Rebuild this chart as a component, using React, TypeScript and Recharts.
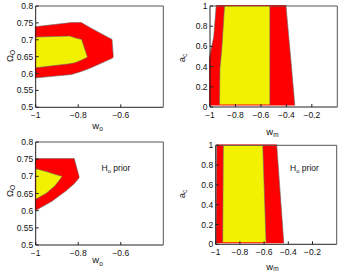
import React from 'react';
import { ComposedChart, Area, XAxis, YAxis } from 'recharts';

const W = 340;
const H = 273;
const RED = '#ff0000';
const YELLOW = '#f2f200';
const EDGE = '#6a6a6a';
const FONT = '"Liberation Sans", Arial, Helvetica, sans-serif';

// ---------- tick labels ----------
const omegaTicks = [0.5, 0.55, 0.6, 0.65, 0.7, 0.75, 0.8];
const woTicks = [-1, -0.8, -0.6];
const acTicks = [0, 0.2, 0.4, 0.6, 0.8, 1];
const wmTicks = [-1, -0.8, -0.6, -0.4, -0.2];

// ---------- panel 1: Omega_O vs w_o ----------
const p1RedW = [-1, -0.83, -0.784, -0.745, -0.713, -0.642, -0.636];
const p1RedLo = [0.588, 0.598, 0.607, 0.616, 0.625, 0.645, 0.648];
const p1RedHi = [0.737, 0.749, 0.749, 0.735, 0.724, 0.7, 0.65];
const p1YelW = [-1, -0.84, -0.815, -0.784, -0.757];
const p1YelLo = [0.617, 0.629, 0.632, 0.64, 0.648];
const p1YelHi = [0.708, 0.711, 0.706, 0.701, 0.649];

// ---------- panel 2: a_c vs w_m ----------
const p2RedA = [0.025, 0.47, 0.69, 1];
const p2RedL = [-1, -1, -0.964, -0.944];
const p2RedR = [-0.336, -0.367, -0.383, -0.405];
const p2YelA = [0.025, 0.38, 0.56, 1];
const p2YelL = [-0.925, -0.922, -0.908, -0.886];
const p2YelR = [-0.53, -0.53, -0.53, -0.53];

// ---------- panel 3: Omega_O vs w_o, H_o prior ----------
const p3RedW = [-1, -0.92, -0.856, -0.817, -0.794];
const p3RedLo = [0.6, 0.628, 0.657, 0.678, 0.695];
const p3RedHi = [0.75, 0.75, 0.75, 0.75, 0.698];
const p3YelW = [-1, -0.95, -0.91, -0.877];
const p3YelLo = [0.633, 0.651, 0.672, 0.698];
const p3YelHi = [0.722, 0.714, 0.706, 0.7];

// ---------- panel 4: a_c vs w_m, H_o prior ----------
const p4RedA = [0.02, 1];
const p4RedL = [-0.99, -0.984];
const p4RedR = [-0.438, -0.496];
const p4YelA = [0.02, 1];
const p4YelL = [-0.942, -0.937];
const p4YelR = [-0.584, -0.611];

const hRows = (xs: number[], lo: number[], hi: number[]) =>
  xs.map((x, i) => ({ x, r: [lo[i], hi[i]] }));
const vRows = (ys: number[], l: number[], r: number[]) =>
  ys.map((y, i) => ({ y, r: [l[i], r[i]] }));

const fmt = (v: number) => String(v).replace('-', '\u2212');

type Rect = { left: number; top: number; right: number; bottom: number };

type LayerProps = {
  data: any[];
  fill: string;
  vertical: boolean;
  rect: Rect;
  xDomain: [number, number];
  yDomain: [number, number];
  xTicks: number[];
  yTicks: number[];
  axes: boolean;
};

const AX = 1; // axis box thickness reserved by each axis

function Layer({ data, fill, vertical, rect, xDomain, yDomain, xTicks, yTicks, axes }: LayerProps) {
  const margin = {
    left: rect.left - AX,
    top: rect.top - AX,
    right: W - rect.right - AX,
    bottom: H - rect.bottom - AX,
  };
  const tickStyle = { fontSize: 8.5, fill: '#111', fontFamily: FONT };
  return (
    <div style={{ position: 'absolute', left: 0, top: 0, width: W, height: H }}>
      <ComposedChart width={W} height={H} data={data} margin={margin} layout={vertical ? 'vertical' : 'horizontal'}>
        <XAxis
          xAxisId="b"
          type="number"
          dataKey={vertical ? undefined : 'x'}
          domain={xDomain}
          ticks={xTicks}
          allowDataOverflow
          height={AX}
          hide={!axes}
          tickFormatter={fmt}
          tick={tickStyle}
          tickSize={-3}
          tickMargin={7.5}
          stroke="#222"
          axisLine={{ stroke: '#222' }}
          tickLine={{ stroke: '#222' }}
        />
        <XAxis
          xAxisId="t"
          orientation="top"
          type="number"
          domain={xDomain}
          ticks={xTicks}
          allowDataOverflow
          height={AX}
          hide={!axes}
          tick={false}
          tickSize={-3}
          axisLine={{ stroke: '#555' }}
          tickLine={{ stroke: '#555' }}
        />
        <YAxis
          yAxisId="l"
          type="number"
          dataKey={vertical ? 'y' : undefined}
          domain={yDomain}
          ticks={yTicks}
          reversed={vertical}
          allowDataOverflow
          width={AX}
          hide={!axes}
          tickFormatter={fmt}
          tick={tickStyle}
          tickSize={-3}
          tickMargin={5.5}
          axisLine={{ stroke: '#222' }}
          tickLine={{ stroke: '#222' }}
        />
        <YAxis
          yAxisId="r"
          orientation="right"
          type="number"
          domain={yDomain}
          ticks={yTicks}
          reversed={vertical}
          allowDataOverflow
          width={AX}
          hide={!axes}
          tick={false}
          tickSize={-3}
          axisLine={{ stroke: '#555' }}
          tickLine={{ stroke: '#555' }}
        />
        {data.length > 0 && (
          <Area
            xAxisId="b"
            yAxisId="l"
            dataKey="r"
            type="linear"
            fill={fill}
            fillOpacity={1}
            stroke={EDGE}
            strokeWidth={0.6}
            isAnimationActive={false}
            dot={false}
            activeDot={false}
          />
        )}
      </ComposedChart>
    </div>
  );
}

type PanelDef = {
  vertical: boolean;
  rect: Rect;
  xDomain: [number, number];
  yDomain: [number, number];
  xTicks: number[];
  yTicks: number[];
  red: any[];
  yellow: any[];
};

const panels: PanelDef[] = [
  {
    vertical: false,
    rect: { left: 35.7, top: 6, right: 163.3, bottom: 107.3 },
    xDomain: [-1, -0.4],
    yDomain: [0.5, 0.8],
    xTicks: woTicks,
    yTicks: omegaTicks,
    red: hRows(p1RedW, p1RedLo, p1RedHi),
    yellow: hRows(p1YelW, p1YelLo, p1YelHi),
  },
  {
    vertical: true,
    rect: { left: 210, top: 6, right: 337.3, bottom: 107 },
    xDomain: [-1, 0],
    yDomain: [0, 1],
    xTicks: wmTicks,
    yTicks: acTicks,
    red: vRows(p2RedA, p2RedL, p2RedR),
    yellow: vRows(p2YelA, p2YelL, p2YelR),
  },
  {
    vertical: false,
    rect: { left: 35.7, top: 142, right: 163.3, bottom: 245 },
    xDomain: [-1, -0.4],
    yDomain: [0.5, 0.8],
    xTicks: woTicks,
    yTicks: omegaTicks,
    red: hRows(p3RedW, p3RedLo, p3RedHi),
    yellow: hRows(p3YelW, p3YelLo, p3YelHi),
  },
  {
    vertical: true,
    rect: { left: 215.7, top: 145.3, right: 336.7, bottom: 244.3 },
    xDomain: [-1, 0],
    yDomain: [0, 1],
    xTicks: wmTicks,
    yTicks: acTicks,
    red: vRows(p4RedA, p4RedL, p4RedR),
    yellow: vRows(p4YelA, p4YelL, p4YelR),
  },
];

function Titles() {
  const base = { fontFamily: FONT, fill: '#111' } as const;
  const yTitle = (x: number, y: number, main: string, sub: string) => (
    <text x={x} y={y} transform={`rotate(-90, ${x}, ${y})`} textAnchor="middle" fontSize={9.5} {...base}>
      {main}
      <tspan dy={2.5} fontSize={6.5}>{sub}</tspan>
    </text>
  );
  const xTitle = (x: number, y: number, main: string, sub: string, dy = 2.5) => (
    <text x={x} y={y} textAnchor="middle" fontSize={9.5} {...base}>
      {main}
      <tspan dy={dy} fontSize={6.5}>{sub}</tspan>
    </text>
  );
  const note = (x: number, y: number) => (
    <text x={x} y={y} fontSize={8.5} {...base}>
      H<tspan dy={2} fontSize={6}>o</tspan>
      <tspan dy={-2}> prior</tspan>
    </text>
  );
  return (
    <svg width={W} height={H} style={{ position: 'absolute', left: 0, top: 0 }}>
      {yTitle(12.5, 56, '\u03A9', 'O')}
      {yTitle(184.5, 58, 'a', 'c')}
      {yTitle(12.5, 191, '\u03A9', 'O')}
      {yTitle(184.5, 194, 'a', 'c')}
      {xTitle(97.5, 128.5, 'w', 'o')}
      {xTitle(272.5, 134.5, 'w', 'm')}
      {xTitle(97.5, 263, 'w', 'o')}
      {xTitle(272.5, 269.5, 'w', 'm', 1.5)}
      {note(101.5, 171)}
      {note(290, 171)}
    </svg>
  );
}

export default function App() {
  return (
    <div style={{ position: 'absolute', left: 0, top: 0, width: W, height: H, background: '#fff', overflow: 'hidden' }}>
      {panels.map((p, i) => (
        <React.Fragment key={i}>
          <Layer data={p.red} fill={RED} vertical={p.vertical} rect={p.rect} xDomain={p.xDomain} yDomain={p.yDomain} xTicks={p.xTicks} yTicks={p.yTicks} axes={false} />
          <Layer data={p.yellow} fill={YELLOW} vertical={p.vertical} rect={p.rect} xDomain={p.xDomain} yDomain={p.yDomain} xTicks={p.xTicks} yTicks={p.yTicks} axes={true} />
        </React.Fragment>
      ))}
      <Titles />
    </div>
  );
}
